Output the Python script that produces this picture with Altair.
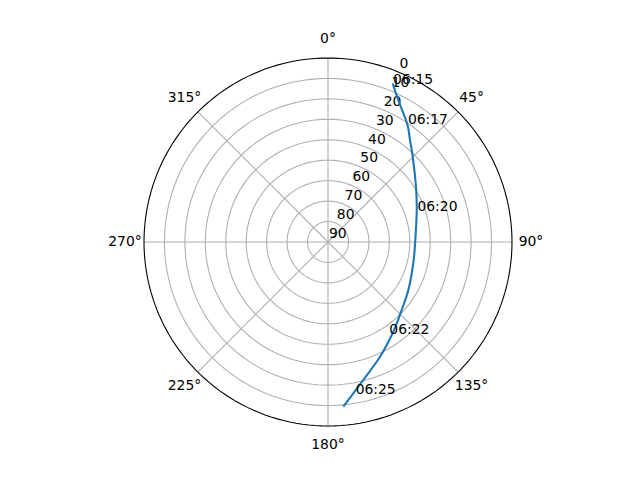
import altair as alt
import pandas as pd
import numpy as np

# Satellite pass track: azimuth (deg, clockwise from north) and elevation (deg)
track_az = [22.2, 26.3, 33.9, 38.8, 44.8, 57.9, 70.7, 90.9, 104.0, 120.9, 135.4, 144.7, 155.6, 165.7, 174.7]
track_el = [6.2, 12.5, 20.5, 26.0, 31.2, 39.2, 44.0, 47.4, 47.0, 44.2, 39.9, 35.3, 28.4, 20.3, 9.1]

# Time annotations along the track
label_times = ["06:15", "06:17", "06:20", "06:22", "06:25"]
label_az = [22.4, 34.1, 70.9, 146.4, 169.7]
label_el = [6.5, 20.3, 43.7, 35.8, 14.4]

# Grid definitions
ring_el = [10, 20, 30, 40, 50, 60, 70, 80]
spoke_az = [0, 45, 90, 135, 180, 225, 270, 315]
spoke_labels = ["0°", "45°", "90°", "135°", "180°", "225°", "270°", "315°"]
rlabel_values = [0, 10, 20, 30, 40, 50, 60, 70, 80, 90]

SIZE = 368
FONT = "DejaVu Sans"
FS = 13.9

xs = alt.Scale(domain=[-90, 90], nice=False, zero=False)
ys = alt.Scale(domain=[-90, 90], nice=False, zero=False)

PX = "(90 - datum.el) * sin(datum.az * PI / 180)"
PY = "(90 - datum.el) * cos(datum.az * PI / 180)"

# ring circles
angles = np.arange(0, 361, 2)
ring_df = pd.DataFrame(
    [{"ring": e, "az": a, "el": e} for e in ring_el for a in angles]
)
outer_df = pd.DataFrame([{"az": a, "el": 0} for a in angles])

rings = alt.Chart(ring_df).mark_line(color="#b0b0b0", strokeWidth=1.1).transform_calculate(
    px=PX, py=PY
).encode(
    x=alt.X("px:Q", scale=xs, axis=None),
    y=alt.Y("py:Q", scale=ys, axis=None),
    detail="ring:N",
    order="az:Q",
)

outer = alt.Chart(outer_df).mark_line(color="black", strokeWidth=1.1).transform_calculate(
    px=PX, py=PY
).encode(
    x=alt.X("px:Q", scale=xs, axis=None),
    y=alt.Y("py:Q", scale=ys, axis=None),
    order="az:Q",
)

spoke_df = pd.DataFrame({"az": spoke_az, "lab": spoke_labels})
spokes = alt.Chart(spoke_df).mark_rule(color="#b0b0b0", strokeWidth=1.1).transform_calculate(
    x0="0", y0="0",
    x1="90 * sin(datum.az * PI / 180)",
    y1="90 * cos(datum.az * PI / 180)",
).encode(
    x=alt.X("x0:Q", scale=xs, axis=None),
    y=alt.Y("y0:Q", scale=ys, axis=None),
    x2="x1:Q",
    y2="y1:Q",
)

spoke_text = alt.Chart(spoke_df).mark_text(
    font=FONT, fontSize=FS, align="center", baseline="middle", color="black"
).transform_calculate(
    lx="90 * 203 / 184 * sin(datum.az * PI / 180)",
    ly="90 * 203 / 184 * cos(datum.az * PI / 180)",
).encode(
    x=alt.X("lx:Q", scale=xs, axis=None),
    y=alt.Y("ly:Q", scale=ys, axis=None),
    text="lab:N",
)

rlab_df = pd.DataFrame({"el": rlabel_values, "az": [22.5] * len(rlabel_values)})
rlabels = alt.Chart(rlab_df).mark_text(
    font=FONT, fontSize=FS, align="left", baseline="bottom", dx=1, dy=-1, color="black"
).transform_calculate(
    px=PX, py=PY, t="format(datum.el, 'd')"
).encode(
    x=alt.X("px:Q", scale=xs, axis=None),
    y=alt.Y("py:Q", scale=ys, axis=None),
    text="t:N",
)

track_df = pd.DataFrame({"i": range(len(track_az)), "az": track_az, "el": track_el})
track = alt.Chart(track_df).mark_line(
    color="#1f77b4", strokeWidth=2.1, interpolate="cardinal"
).transform_calculate(
    px=PX, py=PY
).encode(
    x=alt.X("px:Q", scale=xs, axis=None),
    y=alt.Y("py:Q", scale=ys, axis=None),
    order="i:Q",
)

lab_df = pd.DataFrame({"t": label_times, "az": label_az, "el": label_el})
times = alt.Chart(lab_df).mark_text(
    font=FONT, fontSize=FS, align="left", baseline="alphabetic", color="black"
).transform_calculate(
    px=PX, py=PY
).encode(
    x=alt.X("px:Q", scale=xs, axis=None),
    y=alt.Y("py:Q", scale=ys, axis=None),
    text="t:N",
)

chart = alt.layer(rings, spokes, outer, rlabels, spoke_text, track, times).properties(
    width=SIZE,
    height=SIZE,
    autosize=alt.AutoSizeParams(type="none"),
    padding={"left": 136, "top": 50, "right": 120, "bottom": 46},
    background="white",
).configure_view(stroke=None)

chart.save("out.html", embed_options={"renderer": "svg", "actions": False})
